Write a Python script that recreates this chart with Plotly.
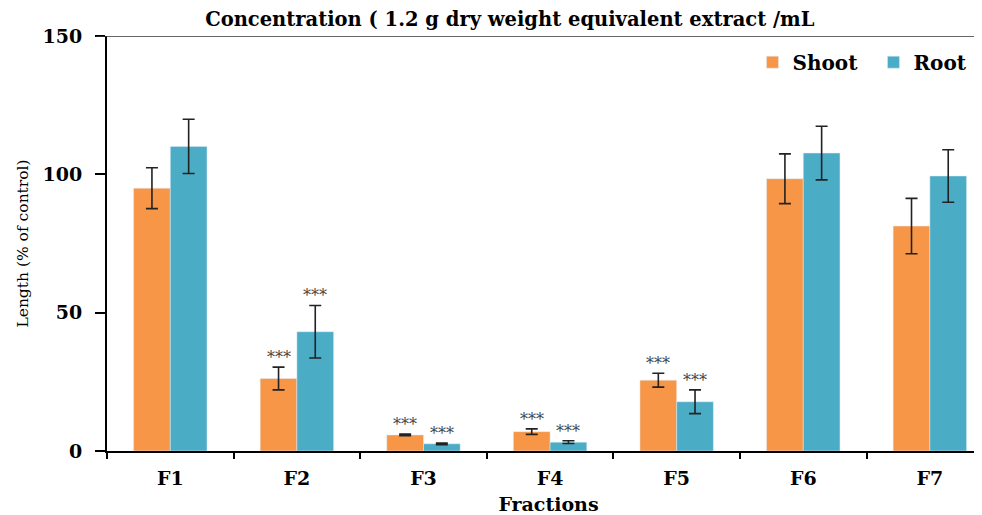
import plotly.graph_objects as go

categories = ["F1", "F2", "F3", "F4", "F5", "F6", "F7"]
shoot = [95.0, 26.2, 5.8, 7.0, 25.6, 98.4, 81.3]
shoot_err = [7.4, 4.1, 0.3, 1.0, 2.5, 9.0, 10.0]
root = [110.1, 43.1, 2.6, 3.2, 17.8, 107.7, 99.4]
root_err = [9.8, 9.5, 0.3, 0.5, 4.3, 9.7, 9.5]
shoot_sig = ["", "***", "***", "***", "***", "", ""]
root_sig = ["", "***", "***", "***", "***", "", ""]

SERIF = "DejaVu Serif"
ORANGE = "#F79646"
BLUE = "#4BACC6"

fig = go.Figure()
fig.add_trace(go.Bar(
    name="Shoot", x=categories, y=shoot, marker_color=ORANGE,
    error_y=dict(type="data", array=shoot_err, color="#222222", thickness=1.6, width=6),
))
fig.add_trace(go.Bar(
    name="Root", x=categories, y=root, marker_color=BLUE,
    error_y=dict(type="data", array=root_err, color="#222222", thickness=1.6, width=6),
))

# significance stars
for i, c in enumerate(categories):
    for vals, errs, sig, off in ((shoot, shoot_err, shoot_sig, -0.145), (root, root_err, root_sig, 0.145)):
        if sig[i]:
            fig.add_annotation(
                x=i + off, y=vals[i] + errs[i], text=sig[i], showarrow=False,
                yanchor="bottom", yshift=-2, xref="x", yref="y",
                font=dict(family=SERIF, size=16, color="#444444"),
            )

# page body has an 8px margin, so the figure is offset by (8, 8)
fig.update_layout(
    width=982, height=515,
    margin=dict(l=99, r=0, t=28, b=72, autoexpand=False),
    paper_bgcolor="white", plot_bgcolor="white",
    barmode="group", bargap=0.42, bargroupgap=0,
    title=dict(text="Concentration ( 1.2 g dry weight equivalent extract /mL",
               x=0.511, xanchor="center", y=0.978, yanchor="middle",
               font=dict(family=SERIF, size=19.5, color="black", weight="bold")),
    legend=dict(orientation="h", x=0.731, xanchor="left", y=0.937, yanchor="middle",
                font=dict(family=SERIF, size=20, color="black", weight="bold"),
                entrywidth=76, entrywidthmode="pixels",
                bgcolor="rgba(0,0,0,0)", traceorder="normal"),
    showlegend=True,
)
fig.update_xaxes(
    range=[-0.5, 6.475], showline=True, linecolor="black", linewidth=2,
    ticks="outside", tickson="boundaries", ticklen=6, tickwidth=2, tickcolor="black",
    tickfont=dict(family=SERIF, size=19, color="black", weight="bold"),
    ticklabelstandoff=9,
    title=dict(text="Fractions", font=dict(family=SERIF, size=19, color="black", weight="bold"), standoff=10),
    showgrid=False, mirror=False, automargin=False,
)
fig.update_yaxes(
    range=[0, 150], tickvals=[0, 50, 100, 150], showline=True, linecolor="black", linewidth=2,
    ticks="outside", ticklen=10, tickwidth=1.5, tickcolor="black",
    tickfont=dict(family=SERIF, size=19, color="black", weight="bold"),
    ticklabelstandoff=9,
    title=dict(text="Length (% of control)", font=dict(family=SERIF, size=15.5, color="black"), standoff=10),
    showgrid=False, zeroline=False, automargin=False,
)
# top border line at 150
fig.add_shape(type="line", xref="paper", yref="y", x0=-0.012, x1=1, y0=150, y1=150,
              line=dict(color="#333333", width=1.5))

fig.write_html("out.html")
